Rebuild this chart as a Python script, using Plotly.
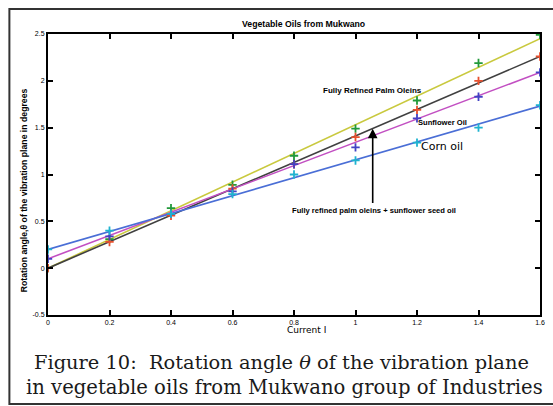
import plotly.graph_objects as go

# Data
current = [0, 0.2, 0.4, 0.6, 0.8, 1.0, 1.2, 1.4, 1.6]
palm_olein = [0.0, 0.31, 0.64, 0.89, 1.20, 1.49, 1.79, 2.19, 2.49]
blend = [0.0, 0.28, 0.56, 0.85, 1.11, 1.40, 1.69, 2.00, 2.26]
sunflower = [0.10, 0.34, 0.58, 0.82, 1.11, 1.29, 1.60, 1.83, 2.09]
corn = [0.20, 0.40, 0.58, 0.79, 1.00, 1.15, 1.34, 1.50, 1.74]

fit_x = [0, 1.6]
palm_fit = [0.0, 2.45]
blend_fit = [0.0, 2.26]
sunflower_fit = [0.10, 2.09]
corn_fit = [0.20, 1.73]

x_ticks = [0, 0.2, 0.4, 0.6, 0.8, 1, 1.2, 1.4, 1.6]
x_ticklabels = ["0", "0.2", "0.4", "0.6", "0.8", "1", "1.2", "1.4", "1.6"]
y_ticks = [-0.5, 0, 0.5, 1, 1.5, 2, 2.5]
y_ticklabels = ["-0.5", "0", "0.5", "1", "1.5", "2", "2.5"]

W, H = 553, 406
L, R, T, B = 48, 8, 34, 91
pw, ph = W - L - R, H - T - B

def px(xpix):
    return (xpix - L) / pw

def py(ypix):
    return (H - B - ypix) / ph

fig = go.Figure()

line_specs = [
    (palm_fit, "#c9c93e"),
    (blend_fit, "#404040"),
    (sunflower_fit, "#c24fc2"),
    (corn_fit, "#4a6ed6"),
]
for ys, col in line_specs:
    fig.add_trace(go.Scatter(x=fit_x, y=ys, mode="lines",
                             line=dict(color=col, width=1.6),
                             showlegend=False, hoverinfo="skip"))

marker_specs = [
    (palm_olein, "#22993a"),
    (blend, "#e8502e"),
    (sunflower, "#4242c4"),
    (corn, "#1fb3d0"),
]
for ys, col in marker_specs:
    fig.add_trace(go.Scatter(x=current, y=ys, mode="markers",
                             marker=dict(symbol="cross-thin", size=6,
                                         line=dict(color=col, width=1.8)),
                             showlegend=False))

axis_common = dict(showgrid=False, zeroline=False, showline=True,
                   linecolor="black", linewidth=2, mirror="ticks",
                   ticks="inside", ticklen=5, tickwidth=1.5,
                   tickcolor="black",
                   tickfont=dict(family="Liberation Sans", size=7, color="black"))

fig.update_xaxes(range=[0, 1.6], tickvals=x_ticks, ticktext=x_ticklabels,
                 **axis_common)
fig.update_yaxes(range=[-0.5, 2.5], tickvals=y_ticks, ticktext=y_ticklabels,
                 **axis_common)

small = dict(family="Liberation Sans", size=7.6, color="black")

def note(xp, yp, text, font, **kw):
    d = dict(x=px(xp), y=py(yp), xref="paper", yref="paper", text=text,
             showarrow=False, font=font, xanchor="center", yanchor="middle")
    d.update(kw)
    return d

annotations = [
    note(306, 24, "<b>Vegetable Oils from Mukwano</b>",
         dict(family="Liberation Sans", size=8.7, color="black")),
    note(309, 330, "Current I",
         dict(family="DejaVu Sans", size=9, color="black")),
    note(24, 190, "<b>Rotation angle,θ of the vibration plane in degrees</b>",
         dict(family="Liberation Sans", size=8.7, color="black"), textangle=-90),
    note(376, 90, "<b>Fully Refined Palm Oleins</b>",
         dict(family="Liberation Sans", size=8, color="black")),
    note(447, 122, "<b>Sunflower Oil</b>", small),
    note(446, 146, "Corn oil", dict(family="DejaVu Sans", size=11, color="black")),
    note(377, 210, "<b>Fully refined palm oleins + sunflower seed oil</b>", small),
    dict(x=(376 - L) / pw * 1.6, y=(267 - 127) / 94, xref="x", yref="y",
         ax=(376 - L) / pw * 1.6, ay=(267 - 203) / 94, axref="x", ayref="y",
         text="", showarrow=True, arrowhead=2, arrowsize=1.2, arrowwidth=1.6,
         arrowcolor="black"),
    note(284, 362, "Figure 10:  Rotation angle <i>θ</i> of the vibration plane",
         dict(family="DejaVu Serif", size=19.4, color="#1a1a1a")),
    note(286.5, 387, "in vegetable oils from Mukwano group of Industries",
         dict(family="DejaVu Serif", size=19.6, color="#1a1a1a")),
]

shapes = [
    dict(type="rect", xref="paper", yref="paper",
         x0=px(9), x1=px(560), y0=py(404), y1=py(9),
         line=dict(color="#333", width=2), layer="below"),
]

fig.update_layout(width=W, height=H, margin=dict(l=L, r=R, t=T, b=B),
                  paper_bgcolor="white", plot_bgcolor="white",
                  annotations=annotations, shapes=shapes)

fig.write_html("out.html")
